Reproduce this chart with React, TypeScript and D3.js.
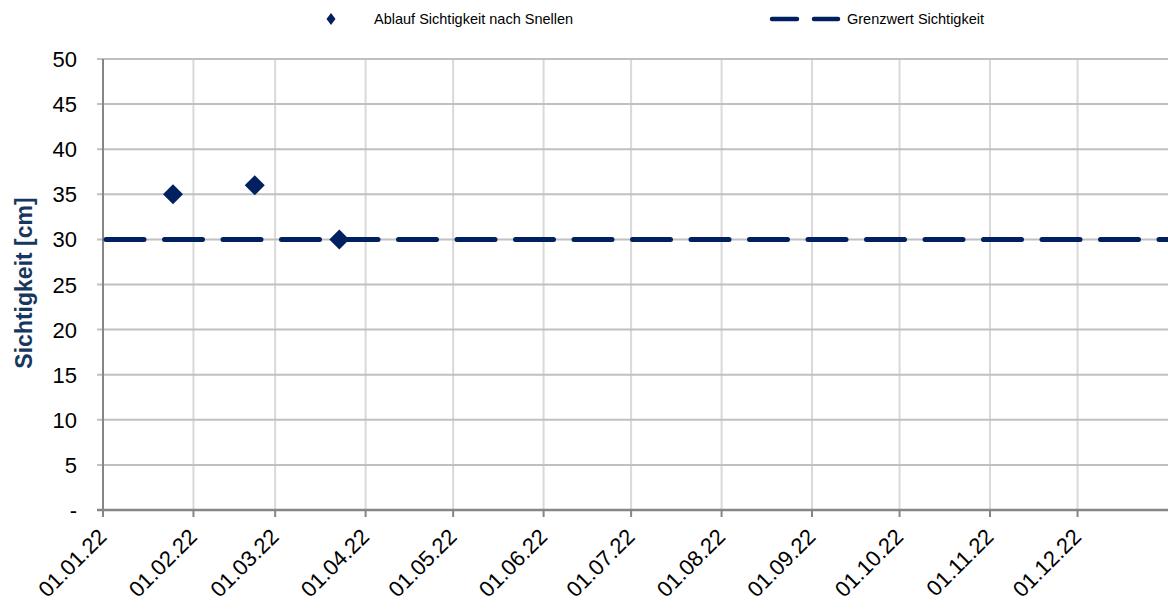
import { scaleLinear, scaleTime, timeMonth, timeFormat, line } from "d3"

const pointDates = ["2022-01-25", "2022-02-22", "2022-03-23"]
const pointValues = [35, 36, 30]
const limitValue = 30
const yTicks = [0, 5, 10, 15, 20, 25, 30, 35, 40, 45, 50]
const seriesLabel = "Ablauf Sichtigkeit nach Snellen"
const limitLabel = "Grenzwert Sichtigkeit"
const yTitle = "Sichtigkeit [cm]"

const W = 1168
const H = 609
const m = { left: 103, right: 1168, top: 59, bottom: 510 }
const navy = "#002060"
const font = "'Liberation Sans', Arial, sans-serif"

const parse = (s: string) => new Date(s + "T00:00:00")

export default function App() {
  const x = scaleTime()
    .domain([new Date(2022, 0, 1), new Date(2023, 0, 1)])
    .range([m.left, m.right])
  const y = scaleLinear().domain([0, 50]).range([m.bottom, m.top])
  const months = timeMonth.range(new Date(2022, 0, 1), new Date(2022, 11, 2))
  const fmt = timeFormat("%d.%m.%y")

  const limitPath = line<number>()
    .x((d) => d)
    .y(() => y(limitValue))([m.left + 3, m.right + 10])

  const diamond = (cx: number, cy: number, rx: number, ry: number) =>
    `M${cx},${cy - ry}L${cx + rx},${cy}L${cx},${cy + ry}L${cx - rx},${cy}Z`

  return (
    <svg
      width={W}
      height={H}
      style={{ position: "absolute", left: 0, top: 0, background: "#fff" }}
      fontFamily={font}
    >
      {/* legend */}
      <path d={diamond(331, 19, 4.5, 6)} fill={navy} />
      <text x={374} y={24} fontSize={14.5} fill="#000">
        {seriesLabel}
      </text>
      <line
        x1={772}
        x2={838}
        y1={19}
        y2={19}
        stroke={navy}
        strokeWidth={4.5}
        strokeLinecap="round"
        strokeDasharray="25 17"
      />
      <text x={847} y={24} fontSize={14.5} fill="#000">
        {limitLabel}
      </text>

      {/* vertical grid */}
      {months.slice(1).map((d, i) => (
        <line key={i} x1={x(d)} x2={x(d)} y1={m.top} y2={m.bottom} stroke="#d9d9d9" strokeWidth={2} />
      ))}
      {/* horizontal grid */}
      {yTicks.slice(1).map((t) => (
        <line key={t} x1={m.left - 6} x2={W} y1={y(t)} y2={y(t)} stroke="#c0c0c0" strokeWidth={2} />
      ))}

      {/* axes */}
      <line x1={m.left} x2={m.left} y1={m.top} y2={m.bottom} stroke="#868686" strokeWidth={2} />
      <line x1={m.left - 6} x2={W} y1={m.bottom} y2={m.bottom} stroke="#868686" strokeWidth={2.5} />
      {months.map((d, i) => (
        <line key={i} x1={x(d)} x2={x(d)} y1={m.bottom} y2={m.bottom + 7} stroke="#868686" strokeWidth={2} />
      ))}

      {/* y tick labels */}
      {yTicks.map((t) => (
        <text key={t} x={77} y={y(t) + 8} fontSize={22} textAnchor="end" fill="#000">
          {t === 0 ? "-" : t}
        </text>
      ))}

      {/* x tick labels */}
      {months.map((d, i) => (
        <text
          key={i}
          transform={`translate(${x(d) + 5},${m.bottom + 28}) rotate(-45)`}
          fontSize={22}
          textAnchor="end"
          fill="#000"
        >
          {fmt(d)}
        </text>
      ))}

      {/* y title */}
      <text
        transform={`translate(32,283) rotate(-90)`}
        textAnchor="middle"
        fontSize={23}
        fontWeight="bold"
        fill="#17375e"
      >
        {yTitle}
      </text>

      {/* limit line */}
      <path
        d={limitPath ?? ""}
        stroke={navy}
        strokeWidth={5}
        fill="none"
        strokeLinecap="round"
        strokeDasharray="38 20.5"
      />

      {/* points */}
      {pointDates.map((d, i) => (
        <path key={i} d={diamond(x(parse(d)), y(pointValues[i]), 10, 10)} fill={navy} />
      ))}
    </svg>
  )
}
